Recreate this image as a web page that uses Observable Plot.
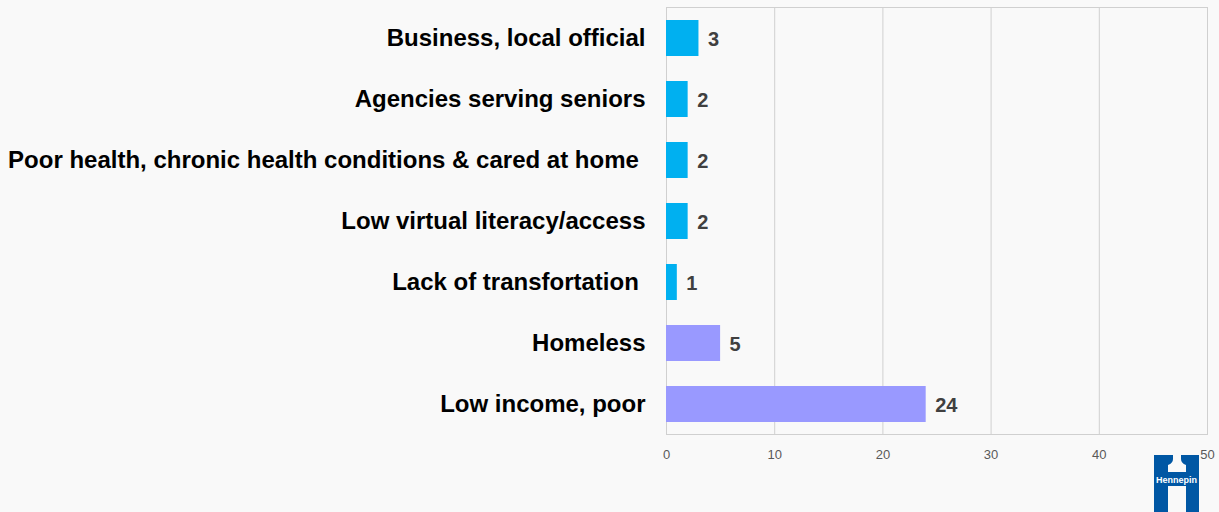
<!DOCTYPE html>
<html>
<head>
<meta charset="utf-8">
<script src="https://cdn.jsdelivr.net/npm/d3@7"></script>
<script src="https://cdn.jsdelivr.net/npm/@observablehq/plot@0.6"></script>
<style>
  html, body { margin: 0; padding: 0; background: #f9f9f9; }
  #wrap { position: relative; width: 1219px; height: 512px; overflow: hidden; font-family: "Liberation Sans", Arial, sans-serif; }
  #logo { position: absolute; left: 1154px; top: 455px; }
</style>
</head>
<body>
<div id="wrap"></div>
<script>
const categories = [
  "Business, local official",
  "Agencies serving seniors",
  "Poor health, chronic health conditions & cared at home\u00a0",
  "Low virtual literacy/access",
  "Lack of transfortation\u00a0",
  "Homeless",
  "Low income, poor"
];
const values = [3, 2, 2, 2, 1, 5, 24];
const groups = ["g1", "g1", "g1", "g1", "g1", "g2", "g2"];
const xTicks = [0, 10, 20, 30, 40, 50];

const data = categories.map((c, i) => ({category: c, value: values[i], group: groups[i]}));

const chart = Plot.plot({
  width: 1219,
  height: 512,
  marginLeft: 666,
  marginRight: 12,
  marginTop: 7,
  marginBottom: 78,
  style: {background: "#f9f9f9", fontFamily: "'Liberation Sans', Arial, sans-serif"},
  x: {domain: [0, 50], ticks: xTicks, label: null},
  y: {domain: categories, paddingInner: 0.41, paddingOuter: 0.205, label: null},
  color: {type: "ordinal", domain: ["g1", "g2"], range: ["#00b0f0", "#9999ff"]},
  marks: [
    Plot.gridX(xTicks, {stroke: "#d0d0d0", strokeOpacity: 1}),
    Plot.frame({stroke: "#d0d0d0"}),
    Plot.barX(data, {x: "value", y: "category", fill: "group"}),
    Plot.text(data, {x: "value", y: "category", text: d => String(d.value), textAnchor: "start", dx: 9, dy: 1, fontSize: 20, fontWeight: "bold", fill: "#404040"}),
    Plot.axisX(xTicks, {tickSize: 0, tickPadding: 15, fontSize: 13, color: "#595959", tickFormat: d => String(d)}),
    Plot.axisY({tickSize: 0, tickPadding: 21, fontSize: 24, fontWeight: "bold", color: "#000", tickFormat: d => d})
  ]
});
document.getElementById("wrap").appendChild(chart);

const logo = `<svg id="logo" width="45" height="57" viewBox="0 0 45 57" xmlns="http://www.w3.org/2000/svg">
  <path d="M0 0 H19 V4 Q19 8 14 10 V17 H32 V10 Q27 8 27 4 V0 H45 V57 H32 V31 H14 V57 H0 Z" fill="#0057a4"/>
  <text x="22.5" y="27.5" text-anchor="middle" font-family="Liberation Sans, Arial, sans-serif" font-size="9" font-weight="bold" fill="#ffffff">Hennepin</text>
</svg>`;
document.getElementById("wrap").insertAdjacentHTML("beforeend", logo);
</script>
</body>
</html>
